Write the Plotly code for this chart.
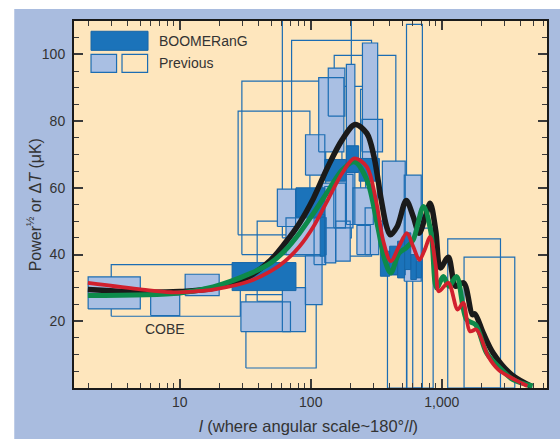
import plotly.graph_objects as go

# ---------------- data ----------------
# BOOMERanG (dark filled) band powers: multipole range and Delta T range (uK)
boom_l_lo = [25.1, 77.1, 118, 128, 187, 234, 340, 400, 460, 520, 580, 640]
boom_l_hi = [77.1, 128, 128, 185, 232, 334, 400, 460, 520, 580, 640, 700]
boom_t_lo = [29.2, 51.2, 39.5, 62.0, 64.6, 62.0, 33.5, 34.0, 33.0, 35.5, 32.5, 33.0]
boom_t_hi = [37.6, 60.0, 52.0, 68.5, 72.6, 68.8, 41.0, 42.5, 44.0, 46.5, 40.0, 38.0]

# Previous experiments (light filled)
prev_l_lo = [2, 6, 11, 29.3, 60.7, 55.6, 91.2, 64.7, 91, 248, 136, 187, 115, 352, 517, 246,
             128, 150, 210, 106, 155, 260, 122, 225]
prev_l_hi = [5, 10, 20, 70, 91.2, 76.6, 128, 131, 122, 324, 182, 217, 179, 526, 697, 353,
             155, 210, 300, 130, 200, 330, 184, 285]
prev_t_lo = [23.7, 21.7, 27.7, 16.9, 16.9, 48.4, 63.8, 40.0, 25.0, 64.0, 81.5, 49.0, 70.8, 34.0, 32.0, 70.8,
             37.5, 48.0, 49.0, 37.0, 38.0, 40.0, 48.0, 40.0]
prev_t_hi = [33.3, 27.9, 34.1, 25.8, 30.1, 59.6, 75.9, 51.0, 39.6, 103.4, 95.9, 97.0, 93.0, 68.0, 63.8, 80.5,
             60.4, 64.0, 60.0, 51.0, 50.0, 54.0, 61.4, 48.7]

# Previous experiments (open boxes)
open_l_lo = [3.0, 32, 29.8, 27.9, 60.7, 71.4, 39, 173, 151, 240, 538, 600, 385, 1110, 1479]
open_l_hi = [29, 110, 130, 98.5, 204, 291, 120, 262, 446, 322, 711, 859, 541, 2805, 3606]
open_t_lo = [21.5, 6.0, 40.0, 45.9, 45.0, 39.5, 26.0, 57.0, 50.0, 55.0, 0.0, 0.0, 0.0, 0.0, 0.0]
open_t_hi = [37.0, 28.0, 92.0, 83.0, 125.0, 104.2, 50.0, 90.4, 99.7, 89.5, 109.0, 47.9, 34.0, 44.7, 39.2]

# Theory curves
black_l = [1.99, 5.2, 10, 18, 34, 49.5, 63.5, 82, 105, 135, 173, 218, 268, 304, 345, 379, 405, 457,
           535, 605, 672, 750, 815, 900, 975, 1122, 1276, 1470, 1711, 1790, 2070, 2466, 3404, 4830]
black_t = [29.5, 28.7, 28.9, 29.9, 33.5, 38.4, 43.4, 49.4, 56.9, 66.3, 74.3, 79.0, 76.3, 69.3, 56.4, 48.4, 45.9, 48.4,
           56.2, 51.4, 46.4, 51.4, 55.4, 47.0, 36.0, 39.2, 30.5, 31.5, 22.0, 22.2, 16.5, 10.5, 4.0, 0.5]

green_l = [1.99, 10, 18, 34, 49.5, 63.5, 82, 105, 135, 173, 215, 268, 324, 367, 408, 471, 534, 605,
           725, 829, 914, 1028, 1134, 1297, 1545, 1811, 2198, 2692, 3500, 4940]
green_t = [27.7, 28.5, 30.3, 34.2, 37.5, 41.2, 46.4, 52.4, 58.9, 65.3, 67.8, 62.4, 48.4, 38.4, 34.5, 40.4, 42.0, 44.4,
           54.4, 46.4, 30.0, 33.4, 30.5, 33.4, 20.5, 19.0, 10.5, 6.5, 2.5, 0.6]

red_l = [1.99, 5.2, 8.55, 13.3, 18, 34, 49.5, 63.5, 82, 105, 135, 173, 215, 268, 314, 356, 408, 471,
         541, 605, 675, 740, 815, 900, 950, 1122, 1321, 1459, 1640, 1841, 2259, 2700, 3606, 4500]
red_t = [31.5, 29.5, 28.7, 29.0, 29.5, 32.0, 35.0, 38.0, 42.4, 48.4, 56.4, 64.3, 68.8, 66.3, 56.4, 44.4, 38.0, 42.4,
         46.4, 42.4, 38.4, 41.4, 45.3, 36.5, 29.0, 31.5, 23.5, 25.5, 17.0, 17.5, 9.5, 5.5, 2.5, 0.6]

x_tick_vals = [10, 100, 1000]
x_tick_text = ["10", "100", "1,000"]
y_tick_vals = [20, 40, 60, 80, 100]

# ---------------- styling ----------------
EDGE = "#1c6db3"
LIGHT = "#a9bfe3"
DARK = "#1b73ba"
PLOT_BG = "#fee6bd"
OUTER = "#a9bcdf"
TXT = "#333333"
FONT = "Liberation Sans, Arial, sans-serif"


def rects(l0, l1, t0, t1):
    xs, ys = [], []
    for a, b, c, d in zip(l0, l1, t0, t1):
        xs += [a, b, b, a, a, None]
        ys += [c, c, d, d, c, None]
    return xs, ys


fig = go.Figure()

ox, oy = rects(open_l_lo, open_l_hi, open_t_lo, open_t_hi)
fig.add_trace(go.Scatter(x=ox, y=oy, mode="lines", line=dict(color=EDGE, width=1.2),
                         hoverinfo="skip", showlegend=False))

px_, py_ = rects(prev_l_lo, prev_l_hi, prev_t_lo, prev_t_hi)
fig.add_trace(go.Scatter(x=px_, y=py_, mode="lines", fill="toself", fillcolor=LIGHT,
                         line=dict(color=EDGE, width=0), hoverinfo="skip", showlegend=False))
fig.add_trace(go.Scatter(x=px_, y=py_, mode="lines", line=dict(color=EDGE, width=1.2),
                         hoverinfo="skip", showlegend=False))

bx, by = rects(boom_l_lo, boom_l_hi, boom_t_lo, boom_t_hi)
fig.add_trace(go.Scatter(x=bx, y=by, mode="lines", fill="toself", fillcolor=DARK,
                         line=dict(color="#1766a8", width=1), hoverinfo="skip", showlegend=False))

for xs, ys, col, w in [(black_l, black_t, "#1a1a1a", 5.5),
                       (green_l, green_t, "#0d8a4a", 5),
                       (red_l, red_t, "#d1202d", 3.8)]:
    fig.add_trace(go.Scatter(x=xs, y=ys, mode="lines",
                             line=dict(color=col, width=w, shape="spline", smoothing=0.9),
                             hoverinfo="skip", showlegend=False))

minor_x = [m * d for d in (1, 10, 100, 1000) for m in range(2, 10)]

fig.update_layout(
    width=560, height=439,
    margin=dict(l=74, r=11, t=21, b=51),
    paper_bgcolor=OUTER,
    plot_bgcolor=PLOT_BG,
    font=dict(family=FONT, color=TXT, size=14),
    showlegend=False,
    xaxis=dict(type="log", range=[0.193, 3.803],
               tickmode="array", tickvals=x_tick_vals, ticktext=x_tick_text,
               ticks="inside", ticklen=9, tickwidth=1.5, tickcolor="#3a3a3a",
               showline=True, linecolor="#1a1a1a", linewidth=2, mirror="ticks",
               showgrid=False, zeroline=False,
               tickfont=dict(size=14, color=TXT, family=FONT),
               minor=dict(tickmode="array", tickvals=minor_x, ticks="inside",
                          ticklen=5, tickwidth=1, tickcolor="#3a3a3a", showgrid=False)),
    yaxis=dict(range=[0, 110], tickmode="array", tickvals=y_tick_vals,
               ticks="inside", ticklen=9, tickwidth=1.5, tickcolor="#3a3a3a",
               showline=True, linecolor="#1a1a1a", linewidth=2, mirror="ticks",
               showgrid=False, zeroline=False, ticklabelstandoff=4,
               tickfont=dict(size=14, color=TXT, family=FONT),
               minor=dict(tickmode="linear", tick0=0, dtick=5, ticks="inside",
                          ticklen=5, tickwidth=1, tickcolor="#3a3a3a", showgrid=False)),
)

# white page margin strips (top and left)
fig.add_shape(type="rect", xref="paper", yref="paper", x0=-0.16, x1=-0.1263, y0=-0.15, y1=1.06,
              fillcolor="white", line_width=0, layer="above")
fig.add_shape(type="rect", xref="paper", yref="paper", x0=-0.16, x1=1.03, y0=1.0327, y1=1.06,
              fillcolor="white", line_width=0, layer="above")

# legend swatches
fig.add_shape(type="rect", xref="x domain", yref="y domain", x0=0.036, x1=0.1565, y0=0.920, y1=0.972,
              fillcolor=DARK, line=dict(color="#1766a8", width=1))
fig.add_shape(type="rect", xref="x domain", yref="y domain", x0=0.036, x1=0.090, y0=0.860, y1=0.909,
              fillcolor=LIGHT, line=dict(color=EDGE, width=1.2))
fig.add_shape(type="rect", xref="x domain", yref="y domain", x0=0.1015, x1=0.1556, y0=0.860, y1=0.909,
              fillcolor=PLOT_BG, line=dict(color=EDGE, width=1.2))

fig.add_annotation(text="BOOMERanG", xref="x domain", yref="y domain", x=0.176, y=0.946,
                   xanchor="left", yanchor="middle", showarrow=False, font=dict(size=14, color=TXT))
fig.add_annotation(text="Previous", xref="x domain", yref="y domain", x=0.176, y=0.885,
                   xanchor="left", yanchor="middle", showarrow=False, font=dict(size=14, color=TXT))
fig.add_annotation(text="COBE", xref="x", yref="y", x=0.888, y=17.7,
                   xanchor="center", yanchor="middle", showarrow=False, font=dict(size=14, color=TXT))

# axis titles
fig.add_annotation(text="<i>l</i> (where angular scale~180°/<i>l</i>)", xref="paper", yref="paper",
                   x=0.496, y=-0.1026, xanchor="center", yanchor="middle", showarrow=False,
                   font=dict(size=16.5, color=TXT))
fig.add_annotation(text="Power<sup>½</sup> or Δ<i>T</i> (μK)", xref="paper", yref="paper",
                   x=-0.0849, y=0.50, xanchor="center", yanchor="middle", textangle=-90,
                   showarrow=False, font=dict(size=16, color=TXT))

fig.write_html("out.html", config={"displayModeBar": False},
               post_script="document.body.style.margin='0';document.body.style.overflow='hidden';")
